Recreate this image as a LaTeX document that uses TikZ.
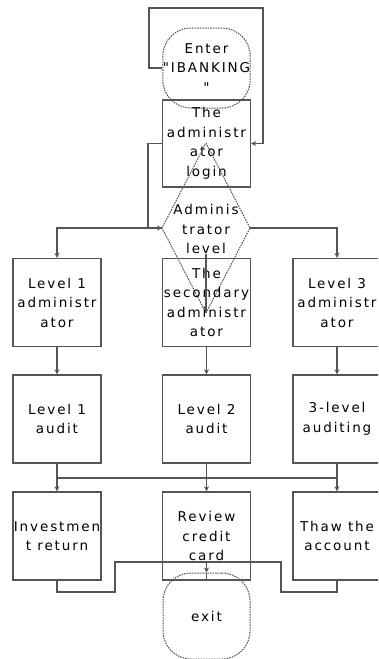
\documentclass[tikz,border=0pt]{standalone}
\usepackage{fontspec}
\newfontfamily\pixfont[LetterSpace=14]{DejaVu Sans}
\usetikzlibrary{arrows.meta}
\definecolor{lc}{HTML}{555555}
\begin{document}
\begin{tikzpicture}[x=1pt,y=-1pt,
  txt/.style={align=center, inner sep=0pt, text=black, font=\pixfont\fontsize{13.5}{19.5}\selectfont},
  box/.style={txt, draw=lc, line width=1.3pt, minimum width=88pt, minimum height=88pt},
  term/.style={txt, draw=lc, dash pattern=on 1.6pt off 1pt, line width=1pt, rounded corners=28pt, minimum width=87pt},
  ln/.style={draw=lc, line width=1.3pt},
  arr/.style={ln, -{Stealth[length=5pt,width=5pt]}}]
\path[use as bounding box, fill=white] (0,0) rectangle (378,659);
\clip (0,0) rectangle (378,659);

% terminals and boxes
\node[term, minimum height=80pt] (enter) at (206.5,68) {Enter\\"IBANKING\\"};
\node[box, minimum height=87pt] (login) at (206.5,143.5) {The\\administr\\ator\\login};

% diamond
\coordinate (dT) at (206,143);
\coordinate (dB) at (206,313);
\coordinate (dL) at (162,228);
\coordinate (dR) at (250,228);
\draw[draw=lc, dash pattern=on 1.6pt off 1pt, line width=1pt] (dT) -- (dR) -- (dB) -- (dL) -- cycle;
\node[txt] (diam) at (206,229) {Adminis\\trator\\level};

\node[box] (l1)  at (57,302.5)    {Level 1\\administr\\ator};
\node[box] (sec) at (206.5,302.5) {The\\secondary\\administr\\ator};
\node[box] (l3)  at (337,302.5)   {Level 3\\administr\\ator};

\node[box] (a1) at (57,419)    {Level 1\\audit};
\node[box] (a2) at (206.5,419) {Level 2\\audit};
\node[box] (a3) at (337,419)   {3-level\\auditing};

\node[box] (r1) at (57,536)    {Investmen\\t return};
\node[box] (r2) at (206.5,536) {Review\\credit\\card};
\node[box] (r3) at (337,536)   {Thaw the\\account};

\node[term, minimum height=86pt] (exit) at (206.5,616) {exit};

% loop from enter to login
\coordinate (lp1) at (149,8);
\coordinate (lp2) at (263,8);
\draw[arr] (enter.west) -| (lp1) -- (lp2) |- (login.east);

% login to diamond
\coordinate (jL) at (148,190);
\draw[arr] (login.west) -| (jL) |- (dL);

% diamond branches
\draw[arr] (dL) -| (l1.north);
\draw[arr] (dR) -| (l3.north);
\draw[ln] (diam.south) -- (dB);

% level boxes to audits
\draw[arr] (l1) -- (a1);
\draw[arr] (sec) -- (a2);
\draw[arr] (l3) -- (a3);

% audits bus
\coordinate (b1) at (57,478);
\coordinate (b3) at (337,478);
\draw[ln] (b1) -- (b3);
\draw[ln] (a1.south) -- (b1);
\draw[ln] (a2.south) -- (a2.south |- b1);
\draw[ln] (a3.south) -- (b3);
\draw[arr] (b1) -- (r1.north);
\draw[arr] (a2.south |- b1) -- (r2.north);
\draw[arr] (b3) -- (r3.north);

% to exit
\coordinate (x1) at (115,592);
\coordinate (y1) at (115,562);
\coordinate (x3) at (281,592);
\coordinate (y3) at (281,562);
\coordinate (m) at (206.5,562);
\draw[ln] (r1.south) |- (x1) -- (y1) -- (m);
\draw[ln] (r3.south) |- (x3) -- (y3) -- (m);
\draw[arr] (m) -- (exit.north);
\draw[ln] (exit.north) -- (r2.south);
\end{tikzpicture}
\end{document}
